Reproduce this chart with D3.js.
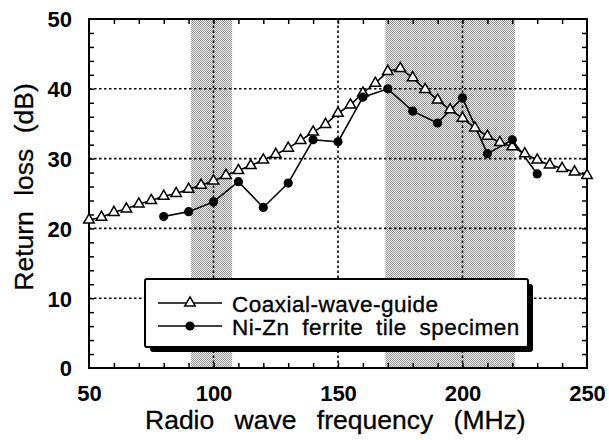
<!DOCTYPE html>
<html><head><meta charset="utf-8">
<script src="https://cdn.jsdelivr.net/npm/d3@7"></script>
<style>
html,body{margin:0;padding:0;background:#fff;}
svg text{font-family:"Liberation Sans",Arial,Helvetica,sans-serif;fill:#000;}
</style></head>
<body><svg id="c" width="609" height="440"></svg>
<script>
// ---- data ----
const coaxFreq = [50,55,60,65,70,75,80,85,90,95,100,105,110,115,120,125,130,135,140,145,150,155,160,165,170,175,180,185,190,195,200,205,210,215,220,225,230,235,240,245,250];
const coaxLoss = [21.2,21.6,22.3,22.8,23.5,24.0,24.6,25.0,25.6,26.2,26.8,27.6,28.3,29.0,29.8,30.6,31.5,32.6,33.8,34.9,36.5,37.7,39.4,40.8,42.5,42.9,41.6,39.9,38.4,37.0,35.8,34.4,33.2,32.3,31.7,30.7,29.8,29.1,28.6,28.1,27.6];
const niFreq = [80,90,100,110,120,130,140,150,160,170,180,190,200,210,220,230];
const niLoss = [21.7,22.4,23.8,26.7,23.0,26.5,32.7,32.4,38.8,40.0,36.8,35.1,38.7,30.7,32.7,27.8];
const bands = [[91,107.5],[169,221]];
const xLabels = [50,100,150,200,250];
const yLabels = [0,10,20,30,40,50];
const xMinor = [60,70,80,90,100,110,120,130,140,150,160,170,180,190,200,210,220,230,240];
const yMinor = [2,4,6,8,10,12,14,16,18,20,22,24,26,28,30,32,34,36,38,40,42,44,46,48];
const xGrid = [100,150,200];
const yGrid = [10,20,30,40];
const seriesNames = ["Coaxial-wave-guide","Ni-Zn ferrite tile specimen"];
const xTitle = "Radio wave frequency (MHz)";
const yTitle = "Return loss (dB)";

// ---- drawing ----
const svg = d3.select("#c");
const L=89,R=587,T=19,B=368;
const x = d3.scaleLinear().domain([50,250]).range([L,R]);
const y = d3.scaleLinear().domain([0,50]).range([B,T]);

const defs = svg.append("defs");
const pat = defs.append("pattern").attr("id","dots").attr("patternUnits","userSpaceOnUse")
  .attr("width",2).attr("height",2);
pat.append("rect").attr("width",2).attr("height",2).attr("fill","#f4f4f4");
pat.append("rect").attr("x",0).attr("y",0).attr("width",1).attr("height",1).attr("fill","#929292");
pat.append("rect").attr("x",1).attr("y",1).attr("width",1).attr("height",1).attr("fill","#929292");

svg.append("rect").attr("width",609).attr("height",440).attr("fill","#fff");

svg.selectAll("rect.band").data(bands).join("rect").attr("class","band")
  .attr("x",d=>x(d[0])).attr("width",d=>x(d[1])-x(d[0]))
  .attr("y",y(50)).attr("height",y(0)-y(50)).attr("fill","url(#dots)");

// grid
svg.selectAll("line.vg").data(xGrid).join("line").attr("class","vg")
  .attr("x1",d=>x(d)).attr("x2",d=>x(d)).attr("y1",y(0)).attr("y2",y(50))
  .attr("stroke","#000").attr("stroke-width",1.6).attr("stroke-dasharray","2.5,2.5");
svg.selectAll("line.hg").data(yGrid).join("line").attr("class","hg")
  .attr("y1",d=>y(d)).attr("y2",d=>y(d)).attr("x1",x(50)).attr("x2",x(250))
  .attr("stroke","#000").attr("stroke-width",1.6).attr("stroke-dasharray","2.5,2.5");

// minor ticks via axes
function ticks(axis, tr){
  const g = svg.append("g").attr("transform",tr).call(axis);
  g.select(".domain").remove();
  g.selectAll("line").attr("stroke","#000").attr("stroke-width",1.5);
  g.selectAll("text").remove();
}
ticks(d3.axisBottom(x).tickValues(xMinor).tickSize(-5), `translate(0,${B})`);
ticks(d3.axisTop(x).tickValues(xMinor).tickSize(-5), `translate(0,${T})`);
ticks(d3.axisLeft(y).tickValues(yMinor).tickSize(-5), `translate(${L},0)`);
ticks(d3.axisRight(y).tickValues(yMinor).tickSize(-5), `translate(${R},0)`);

// labels via axes
const gx = svg.append("g").attr("transform",`translate(0,${B})`)
  .call(d3.axisBottom(x).tickValues(xLabels).tickSize(0).tickPadding(17.5).tickFormat(d3.format("d")));
gx.select(".domain").remove();
gx.selectAll("text").attr("font-size",22).attr("font-weight","bold")
  .attr("font-family","Liberation Sans, Arial, sans-serif");
const gy = svg.append("g").attr("transform",`translate(${L},0)`)
  .call(d3.axisLeft(y).tickValues(yLabels).tickSize(0).tickPadding(17).tickFormat(d3.format("d")));
gy.select(".domain").remove();
gy.selectAll("text").attr("font-size",22).attr("font-weight","bold")
  .attr("font-family","Liberation Sans, Arial, sans-serif").attr("dy","0.36em");

// frame
svg.append("rect").attr("x",L).attr("y",T).attr("width",R-L).attr("height",B-T)
  .attr("fill","none").attr("stroke","#000").attr("stroke-width",2);

// series
const line = d3.line().x(d=>x(d[0])).y(d=>y(d[1]));
const coax = coaxFreq.map((f,i)=>[f,coaxLoss[i]]);
const ni = niFreq.map((f,i)=>[f,niLoss[i]]);
svg.append("path").attr("d",line(coax)).attr("fill","none").attr("stroke","#000").attr("stroke-width",1.6);
svg.append("path").attr("d",line(ni)).attr("fill","none").attr("stroke","#000").attr("stroke-width",1.6);
const tri = d3.symbol().type(d3.symbolTriangle).size(48);
svg.selectAll("path.tri").data(coax).join("path").attr("class","tri")
  .attr("d",tri).attr("transform",d=>`translate(${x(d[0])},${y(d[1])})`)
  .attr("fill","#fff").attr("stroke","#000").attr("stroke-width",1.5);
svg.selectAll("circle.ni").data(ni).join("circle").attr("class","ni")
  .attr("cx",d=>x(d[0])).attr("cy",d=>y(d[1])).attr("r",4.6).attr("fill","#000");

// legend
const lg = svg.append("g");
lg.append("rect").attr("x",150).attr("y",284).attr("width",383).attr("height",68).attr("fill","#000").attr("rx",3);
lg.append("rect").attr("x",145).attr("y",279).attr("width",383).attr("height",68).attr("fill","#fff")
  .attr("stroke","#000").attr("stroke-width",2).attr("rx",2);
const rows = [{y:303, sym:"tri"},{y:326, sym:"cir"}];
rows.forEach((r,i)=>{
  lg.append("line").attr("x1",158).attr("x2",222).attr("y1",r.y).attr("y2",r.y).attr("stroke","#000").attr("stroke-width",1.6);
  if(r.sym==="tri") lg.append("path").attr("d",tri).attr("transform",`translate(190,${r.y})`).attr("fill","#fff").attr("stroke","#000").attr("stroke-width",1.5);
  else lg.append("circle").attr("cx",190).attr("cy",r.y).attr("r",4.6).attr("fill","#000");
  lg.append("text").attr("x",232).attr("y",r.y+8.5).attr("font-size",22.5)
    .attr("letter-spacing",0.5).attr("word-spacing",6)
    .attr("stroke","#000").attr("stroke-width",0.35).text(seriesNames[i]);
});

// titles
svg.append("text").attr("x",145).attr("y",429).attr("font-size",26.5).attr("word-spacing",13)
  .attr("stroke","#000").attr("stroke-width",0.3).text(xTitle);
svg.append("text").attr("transform","translate(33,187) rotate(-90)").attr("text-anchor","middle")
  .attr("font-size",26.5).attr("word-spacing",8).attr("stroke","#000").attr("stroke-width",0.3).text(yTitle);
</script></body></html>
